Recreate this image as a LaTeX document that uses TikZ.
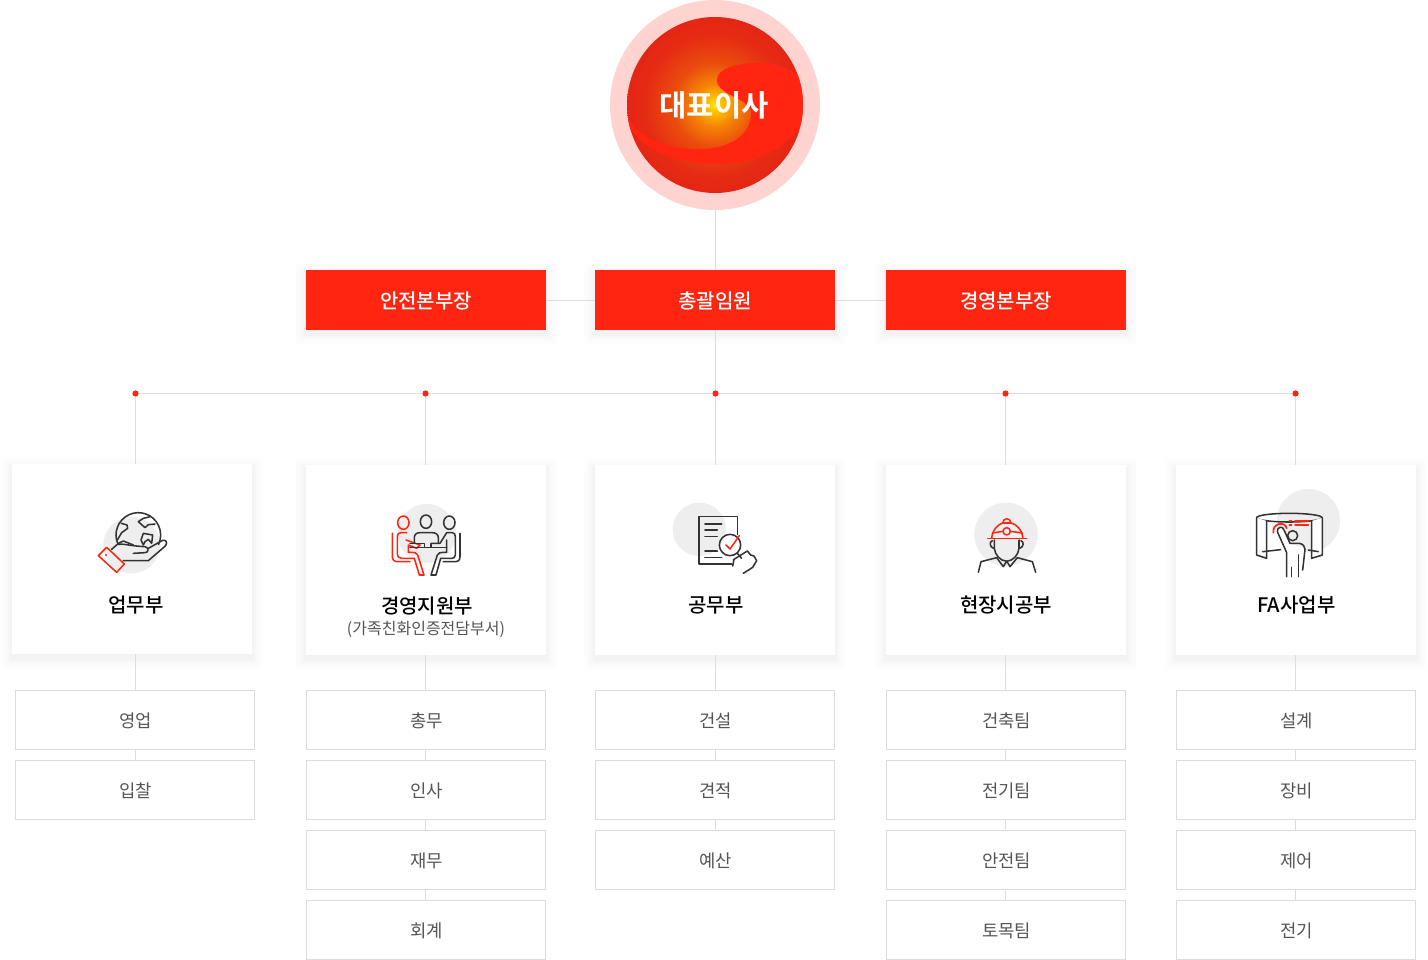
\documentclass[tikz,border=0pt]{standalone}
\usepackage{fontspec}
\setmainfont{Noto Sans CJK KR}[BoldFont={Noto Sans CJK KR Bold}]
\newfontfamily\medf{Noto Sans CJK KR Medium}
\usetikzlibrary{calc}
\definecolor{rd}{HTML}{FF2510}
\definecolor{ln}{HTML}{DDDDDD}
\definecolor{bd}{HTML}{DCDCDC}
\definecolor{tx}{HTML}{555555}
\definecolor{dk}{HTML}{333333}
\definecolor{gc}{HTML}{EEEEEE}
\pgfdeclareradialshading{ballshade}{\pgfpoint{0bp}{0bp}}{
 rgb(0bp)=(1,0.92,0);
 rgb(2bp)=(1,0.76,0);
 rgb(6bp)=(0.96,0.52,0.02);
 rgb(12bp)=(0.92,0.30,0.05);
 rgb(20bp)=(0.90,0.17,0.08);
 rgb(32bp)=(0.88,0.12,0.08);
 rgb(42bp)=(0.90,0.07,0.07);
 rgb(50bp)=(0.91,0,0.06)}
\tikzset{
 lnk/.style={draw=ln,line width=0.75pt},
 redbox/.style={fill=rd,text=white,minimum width=180pt,minimum height=45pt,inner sep=0pt,text height=13.8pt,text depth=1.4pt,font=\medf\fontsize{15}{18}\selectfont},
 card/.style={fill=white,minimum width=180pt,minimum height=142.5pt,inner sep=0pt},
 subbox/.style={draw=bd,line width=0.75pt,fill=white,text=tx,minimum width=179.5pt,minimum height=44.5pt,inner sep=0pt,text height=12.5pt,text depth=1.2pt,execute at begin node={\kern0.75pt},font=\fontsize{13.3}{16}\selectfont},
 cardt/.style={text=black,inner sep=0pt,font=\medf\fontsize{15}{18}\selectfont},
 dot/.style={circle,fill=rd,inner sep=0pt,minimum size=4.5pt},
 ico/.style={line width=1.15pt,line join=round,line cap=round},
 dkl/.style={ico,draw=dk},
 rdl/.style={ico,draw=rd},
}
\newcommand{\softshadow}[1]{%
 \foreach \g in {9,7.5,6.25,5.25,4.5,3.75,3,2.5,2,1.5,1,0.5}{
  \fill[black,opacity=0.004] ($(#1.south west)+(-\g pt,-\g pt-3pt)$) rectangle ($(#1.north east)+(\g pt,\g pt-3pt)$);
 }}
\begin{document}
\begin{tikzpicture}[x=0.75pt,y=-0.75pt]
\useasboundingbox (0,0) rectangle (1428,960);
\fill[white] (0,0) rectangle (1428,960);

% top circle
\node[circle,fill=rd!20!white,minimum size=157.5pt,inner sep=0pt] (ceoring) at (715,105) {};
\begin{scope}
\clip (715,105) circle[radius=88];
\shade[shading=ballshade] (627,17) rectangle (803,193);
\fill[rd] (620,100) .. controls (628,128) and (650,149) .. (700,149)
 .. controls (730,149) and (751,135) .. (751,113)
 .. controls (751,98) and (717,96) .. (717,80)
 .. controls (717,68) and (738,63) .. (757,63)
 .. controls (775,63) and (790,68) .. (800,77)
 -- (810,80) -- (810,120) -- (802,123)
 .. controls (790,148) and (755,164) .. (717,164)
 .. controls (680,164) and (648,152) .. (633,132) -- (620,120) -- cycle;
\end{scope}
\node[text=white,font=\fontsize{22.3}{26}\selectfont\bfseries,inner sep=0pt] (ceo) at (714,105) {대표이사};

% dots
\node[dot] (d1) at (135.5,393.5) {};
\node[dot] (d2) at (425.5,393.5) {};
\node[dot] (d3) at (715.5,393.5) {};
\node[dot] (d4) at (1005.5,393.5) {};
\node[dot] (d5) at (1295.5,393.5) {};

% shadows first, so that they lie under everything
\coordinate (sa) at (426,300);
\coordinate (ge) at (715,300);
\coordinate (mg) at (1006,300);
\node[minimum width=180pt,minimum height=45pt,inner sep=0pt] (sh1) at (sa) {};
\node[minimum width=180pt,minimum height=45pt,inner sep=0pt] (sh2) at (ge) {};
\node[minimum width=180pt,minimum height=45pt,inner sep=0pt] (sh3) at (mg) {};
\softshadow{sh1}\softshadow{sh2}\softshadow{sh3}
\node[minimum width=180pt,minimum height=142.5pt,inner sep=0pt] (s1) at (132,559) {};
\node[minimum width=180pt,minimum height=142.5pt,inner sep=0pt] (s2) at (426,560) {};
\node[minimum width=180pt,minimum height=142.5pt,inner sep=0pt] (s3) at (715,560) {};
\node[minimum width=180pt,minimum height=142.5pt,inner sep=0pt] (s4) at (1006,560) {};
\node[minimum width=180pt,minimum height=142.5pt,inner sep=0pt] (s5) at (1296,560) {};
\softshadow{s1}\softshadow{s2}\softshadow{s3}\softshadow{s4}\softshadow{s5}

% cards
\node[card] (c1) at (s1) {};
\node[card] (c2) at (s2) {};
\node[card] (c3) at (s3) {};
\node[card] (c4) at (s4) {};
\node[card] (c5) at (s5) {};

% red boxes
\node[redbox] (safe) at (sa) {안전본부장};
\node[redbox] (gen) at (ge) {총괄임원};
\node[redbox] (mgt) at (mg) {경영본부장};

% sub boxes
\node[subbox] (a1) at (135,720) {영업};
\node[subbox] (a2) at (135,790) {입찰};
\node[subbox] (b1) at (426,720) {총무};
\node[subbox] (b2) at (426,790) {인사};
\node[subbox] (b3) at (426,860) {재무};
\node[subbox] (b4) at (426,929.7) {회계};
\node[subbox] (e1) at (715,720) {건설};
\node[subbox] (e2) at (715,790) {견적};
\node[subbox] (e3) at (715,860) {예산};
\node[subbox] (f1) at (1006,720) {건축팀};
\node[subbox] (f2) at (1006,790) {전기팀};
\node[subbox] (f3) at (1006,860) {안전팀};
\node[subbox] (f4) at (1006,929.7) {토목팀};
\node[subbox] (g1) at (1296,720) {설계};
\node[subbox] (g2) at (1296,790) {장비};
\node[subbox] (g3) at (1296,860) {제어};
\node[subbox] (g4) at (1296,929.7) {전기};

% connectors
\draw[lnk] (ceoring.south) -- (ceoring.south |- gen.north);
\draw[lnk] (safe.east) -- (gen.west);
\draw[lnk] (gen.east) -- (mgt.west);
\draw[lnk] (d3.center |- gen.south) -- (d3.center);
\draw[lnk] (d1.center) -- (d5.center);
\draw[lnk] (d1.center) -- (d1.center |- c1.north);
\draw[lnk] (d2.center) -- (d2.center |- c2.north);
\draw[lnk] (d3.center) -- (d3.center |- c3.north);
\draw[lnk] (d4.center) -- (d4.center |- c4.north);
\draw[lnk] (d5.center) -- (d5.center |- c5.north);
\draw[lnk] (d1.center |- c1.south) -- (d1.center |- a1.north);
\draw[lnk] (d1.center |- a1.south) -- (d1.center |- a2.north);
\draw[lnk] (d2.center |- c2.south) -- (d2.center |- b1.north);
\draw[lnk] (d2.center |- b1.south) -- (d2.center |- b2.north);
\draw[lnk] (d2.center |- b2.south) -- (d2.center |- b3.north);
\draw[lnk] (d2.center |- b3.south) -- (d2.center |- b4.north);
\draw[lnk] (d3.center |- c3.south) -- (d3.center |- e1.north);
\draw[lnk] (d3.center |- e1.south) -- (d3.center |- e2.north);
\draw[lnk] (d3.center |- e2.south) -- (d3.center |- e3.north);
\draw[lnk] (d4.center |- c4.south) -- (d4.center |- f1.north);
\draw[lnk] (d4.center |- f1.south) -- (d4.center |- f2.north);
\draw[lnk] (d4.center |- f2.south) -- (d4.center |- f3.north);
\draw[lnk] (d4.center |- f3.south) -- (d4.center |- f4.north);
\draw[lnk] (d5.center |- c5.south) -- (d5.center |- g1.north);
\draw[lnk] (d5.center |- g1.south) -- (d5.center |- g2.north);
\draw[lnk] (d5.center |- g2.south) -- (d5.center |- g3.north);
\draw[lnk] (d5.center |- g3.south) -- (d5.center |- g4.north);
\foreach \d in {d1,d2,d3,d4,d5}{\fill[rd] (\d) circle[radius=3];}

% card titles
\node[cardt] (t1) at (136,605) {업무부};
\node[cardt] (t2) at (427,606) {경영지원부};
\node[text=tx,inner sep=0pt,font=\fontsize{12}{14}\selectfont] (t2b) at (426,629) {(가족친화인증전담부서)};
\node[cardt] (t3) at (716,605) {공무부};
\node[cardt] (t4) at (1006,605) {현장시공부};
\node[cardt] (t5) at (1296.5,605) {FA사업부};

% icon 1: globe in a hand
\begin{scope}[shift={(80,490)},x=0.25pt,y=0.25pt,yscale=-1]
\fill[gc] (155,165) circle[radius=85];
\draw[dkl] (175,135) ++(155:67) arc[start angle=155,end angle=385,radius=67];
\draw[dkl] (112,150) -- (125,128) -- (143,115) -- (141,105) -- (124,100);
\draw[dkl] (210,80) -- (190,85) -- (175,95) -- (195,113) -- (205,104) -- (225,102);
\draw[dkl] (183,150) -- (190,130) -- (218,135) -- (215,160) -- (205,148) -- (195,155) -- (190,165) -- cycle;
\draw[dkl] (115,160) -- (130,153) -- (160,165);
\draw[dkl] (95,178) -- (112,163) .. controls (130,160) and (150,168) .. (195,170) .. controls (207,172) and (207,188) .. (195,188) -- (160,190);
\draw[dkl] (205,175) -- (248,151) .. controls (258,148) and (264,158) .. (256,168) -- (205,212) -- (130,212);
\draw[rdl] (80,172) -- (133,222) -- (110,247) -- (55,197) -- cycle;
\fill[rd] (78,195) circle[radius=3.5];
\end{scope}

% icon 2: meeting
\begin{scope}[shift={(375,490)},x=0.25pt,y=0.25pt,yscale=-1]
\fill[gc] (155,130) circle[radius=88];
\draw[rdl] (85,98) ellipse[x radius=17,y radius=20];
\draw[dkl] (153,95) ellipse[x radius=17,y radius=20];
\draw[dkl] (223,98) ellipse[x radius=17,y radius=20];
\draw[rdl] (52,130) -- (52,200) .. controls (52,210) and (58,215) .. (68,215) -- (105,215);
\draw[rdl] (95,128) -- (78,128) .. controls (70,128) and (67,133) .. (67,140) -- (67,190) .. controls (67,200) and (72,205) .. (80,205) -- (118,205) -- (133,255) -- (147,255) -- (128,195) .. controls (125,188) and (118,187) .. (110,187) -- (100,187) -- (100,165) -- (125,175) -- (135,165) -- (93,150);
\draw[dkl] (118,158) -- (118,143) .. controls (118,133) and (125,128) .. (135,128) -- (172,128) .. controls (182,128) and (190,133) .. (190,143) -- (190,158);
\draw[dkl] (105,172) -- (215,172);
\draw[dkl] (148,172) -- (148,160) -- (105,160);
\draw[dkl] (168,172) -- (168,160) -- (195,160) -- (215,128) -- (232,128) .. controls (238,128) and (241,133) .. (241,140) -- (241,195) .. controls (241,202) and (236,205) .. (230,205) -- (197,205) -- (183,255) -- (168,255) -- (187,195) .. controls (190,188) and (197,187) .. (205,187) -- (215,187) -- (215,150);
\draw[dkl] (255,130) -- (255,200) .. controls (255,210) and (250,215) .. (240,215) -- (205,215);
\end{scope}

% icon 3: document check
\begin{scope}[shift={(660,490)},x=0.25pt,y=0.25pt,yscale=-1]
\fill[gc] (118,118) circle[radius=80];
\draw[dkl,line cap=butt] (232,135) -- (232,80) -- (117,80) -- (117,222) -- (215,222);
\draw[dkl] (135,102) -- (185,102);
\draw[dkl] (135,120) -- (172,120);
\draw[dkl] (135,140) -- (172,140);
\draw[dkl] (135,183) -- (172,183);
\draw[dkl] (135,202) -- (185,202);
\draw[dkl] (210,165) circle[radius=32];
\draw[rdl] (198,165) -- (210,177) -- (238,137);
\draw[dkl] (232,190) -- (245,205);
\draw[dkl] (218,228) -- (222,208) -- (262,183) -- (272,195) -- (282,198) -- (290,212) -- (278,232) -- (250,250);
\end{scope}

% icon 4: worker
\begin{scope}[shift={(955,490)},x=0.25pt,y=0.25pt,yscale=-1]
\fill[gc] (153,133) circle[radius=95];
\draw[rdl] (98,145) -- (215,145);
\draw[rdl] (110,145) .. controls (112,118) and (130,103) .. (143,99) -- (168,99) .. controls (185,103) and (200,118) .. (204,145);
\draw[rdl] (143,99) .. controls (145,82) and (166,82) .. (168,99);
\draw[rdl] (155,124) circle[radius=11];
\draw[rdl] (112,129) -- (144,124);
\draw[rdl] (166,124) -- (202,129);
\draw[dkl] (118,150) -- (118,175) .. controls (120,195) and (135,212) .. (155,214) .. controls (175,212) and (190,195) .. (192,175) -- (192,150);
\draw[dkl] (112,152) .. controls (102,155) and (104,172) .. (116,175);
\draw[dkl] (198,152) .. controls (208,155) and (206,172) .. (194,175);
\draw[dkl] (70,247) -- (78,215) -- (125,203) -- (145,230) -- (155,213) -- (165,230) -- (187,203) -- (232,215) -- (242,247);
\end{scope}

% icon 5: touch screen
\begin{scope}[shift={(1240,480)},x=0.25pt,y=0.25pt,yscale=-1]
\fill[gc] (205,122) circle[radius=95];
\draw[dkl] (148,113) ellipse[x radius=98,y radius=13];
\fill[white] (50,113) -- (50,225) -- (80,235) -- (80,123) -- cycle;
\fill[white] (247,113) -- (247,225) -- (215,235) -- (215,123) -- cycle;
\draw[dkl] (50,113) -- (50,225) -- (80,235) -- (80,123);
\draw[dkl] (247,113) -- (247,225) -- (215,235) -- (215,123);
\draw[dkl] (68,215) -- (130,208);
\draw[dkl] (205,210) -- (235,215);
\draw[rdl,line width=1.3pt] (100,158) .. controls (96,130) and (135,122) .. (140,145);
\draw[rdl] (165,123) -- (205,123);
\draw[rdl] (165,135) -- (205,135);
\draw[rdl] (148,123) -- (155,123);
\draw[rdl] (148,135) -- (155,135);
\fill[white] (112,150) -- (125,135) -- (150,190) -- (195,205) -- (190,290) -- (140,290) -- cycle;
\draw[dkl] (158,167) circle[radius=15];
\draw[dkl] (140,290) -- (140,218) -- (112,155) .. controls (110,142) and (128,135) .. (132,150) -- (150,190) -- (178,190) .. controls (190,192) and (195,200) .. (195,208) -- (188,270);
\draw[dkl] (155,290) -- (155,262);
\draw[dkl] (175,290) -- (175,225);
\end{scope}
\end{tikzpicture}
\end{document}
